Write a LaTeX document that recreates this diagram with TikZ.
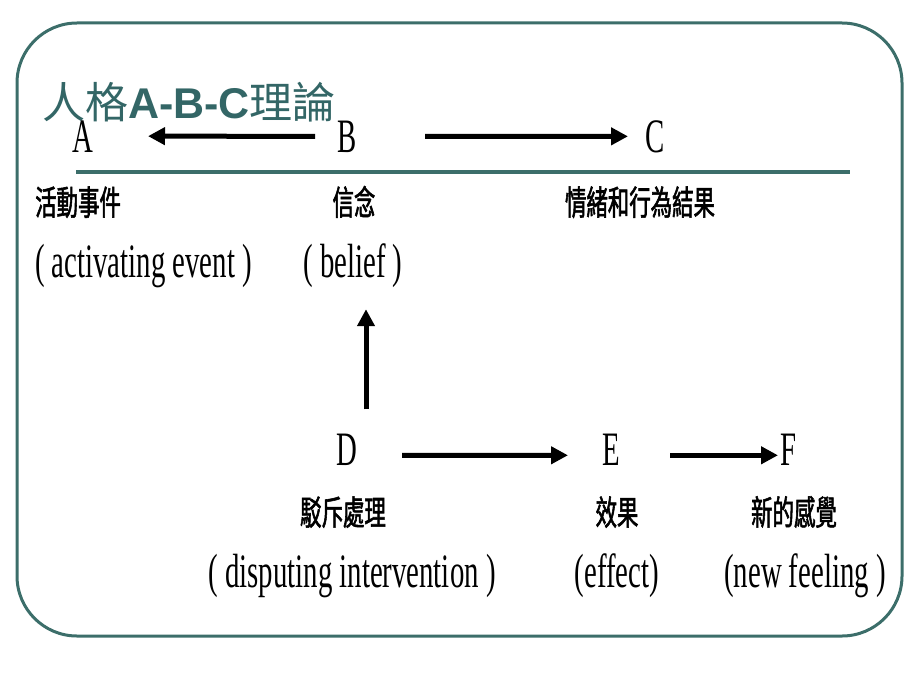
\documentclass[tikz,border=0pt]{standalone}
\usepackage{fontspec}
\setmainfont{Liberation Serif}[FakeStretch=0.6]
\newfontfamily\cjkfont{Noto Sans CJK TC}[FakeStretch=0.63,FakeBold=1.6]
\newfontfamily\titlecjkfont{Noto Sans CJK TC}
\newfontfamily\titlelatfont{Liberation Sans}
\usetikzlibrary{arrows.meta,positioning}
\definecolor{frameteal}{RGB}{60,110,106}
\definecolor{titleteal}{RGB}{51,102,102}

\begin{document}
\begin{tikzpicture}[x=1pt, y=-1pt, on grid,
    letter/.style={inner sep=0pt, anchor=base, font=\fontsize{48}{50}\selectfont},
    cjklab/.style={inner sep=0pt, anchor=base, font=\cjkfont\fontsize{34}{36}\selectfont},
    englab/.style={inner sep=0pt, anchor=base, font=\fontsize{48}{50}\selectfont},
    thickarrow/.style={line width=5pt, -{Triangle[length=17pt,width=17pt]}}]
        \useasboundingbox (0,0) rectangle (920,690);
        \draw[frameteal, line width=3pt, rounded corners=60pt] (17,23) rectangle (902,636);
        \node[anchor=base west, inner sep=0pt, text=titleteal, font=\fontsize{43}{46}\selectfont] (title) at (42,119)
          {{\titlecjkfont 人格}{\titlelatfont\bfseries A-B-C}{\titlecjkfont 理論}};
        \draw[frameteal, line width=4pt] (76,172) -- (850,172);

        % upper row
        \node[letter] (A) at (83,152) {A};
        \node[letter] (B) at (347,152) {B};
        \node[letter] (C) at (655,152) {C};
        \node[cjklab, anchor=base west] (activating) at (35,215) {活動事件};
        \node[cjklab] (belief) at (354,215) {信念};
        \node[cjklab] (outcome) at (640,215) {情緒和行為結果};
        \node[englab, below=62pt of activating.base west, anchor=base west] (activatingEn) {( activating event )};
        \node[englab] (beliefEn) at (353,277) {( belief )};

        % lower row
        \node[letter] (D) at (347,465) {D};
        \node[letter] (E) at (611,465) {E};
        \node[letter] (F) at (788,465) {F};
        \node[cjklab] (dispute) at (343,525) {駁斥處理};
        \node[cjklab] (effect) at (617,525) {效果};
        \node[cjklab] (feeling) at (794,525) {新的感覺};
        \node[englab] (disputeEn) at (352,587) {( disputing intervention )};
        \node[englab] (effectEn) at (617,587) {(effect)};
        \node[englab] (feelingEn) at (805,587) {(new feeling )};

        \draw[thickarrow] ([xshift=-32pt]B.center) -- ([xshift=65pt]A.center);
        \draw[thickarrow] ([xshift=78pt]B.center) -- ([xshift=-27pt]C.center);
        \draw[thickarrow] ([xshift=19pt,yshift=40pt]D.center) -- ([xshift=13pt,yshift=-44pt]beliefEn.center);
        \draw[thickarrow] ([xshift=55pt,yshift=-6pt]D.center) -- ([xshift=-43pt,yshift=-6pt]E.center);
        \draw[thickarrow] ([xshift=59pt,yshift=-6pt]E.center) -- ([xshift=-10pt,yshift=-6pt]F.center);
\end{tikzpicture}
\end{document}
